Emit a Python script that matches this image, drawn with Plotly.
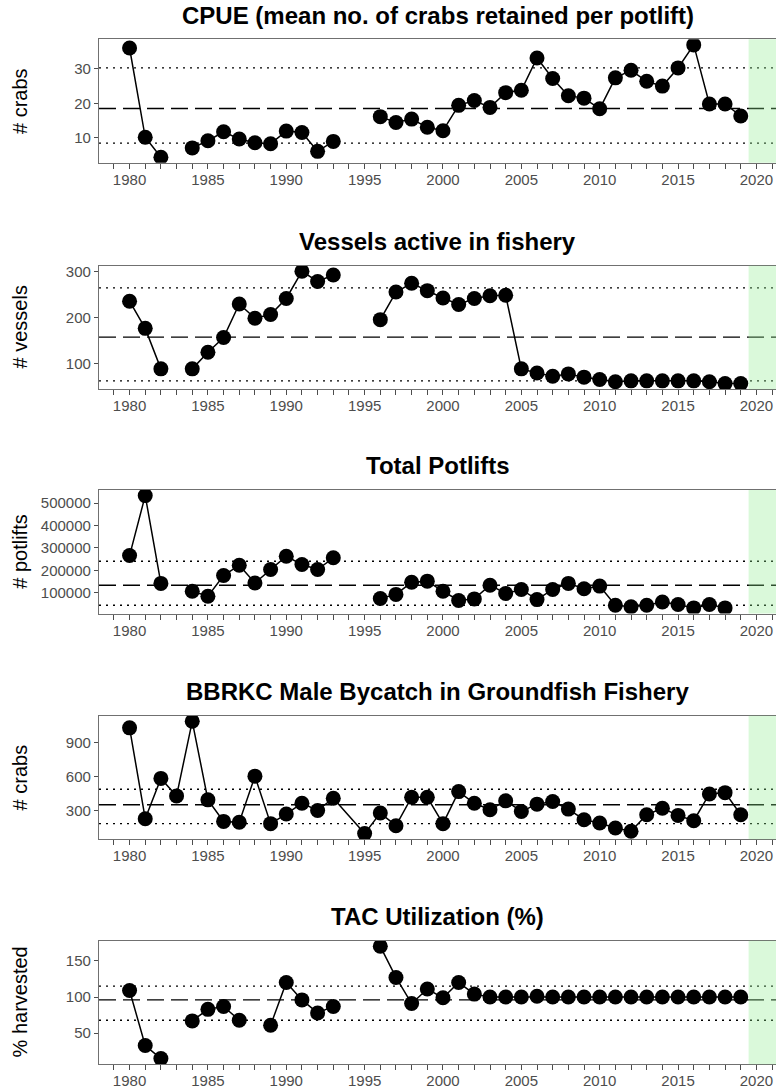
import plotly.graph_objects as go

# ---------------- data ----------------
years = list(range(1980, 2020))

cpue = [36.1, 10.1, 4.3, None, 7.0, 9.1, 11.7, 9.6, 8.5, 8.2,
        11.9, 11.5, 6.0, 8.9, None, None, 16.1, 14.4, 15.4, 13.0,
        12.0, 19.4, 20.8, 18.8, 23.1, 23.8, 33.2, 27.2, 22.2, 21.5,
        18.4, 27.4, 29.6, 26.4, 25.0, 30.3, 37.0, 19.8, 19.8, 16.3]

vessels = [236, 177, 89, None, 89, 125, 157, 230, 199, 207,
           242, 301, 279, 293, None, None, 196, 256, 275, 259,
           243, 229, 242, 248, 249, 89, 80, 73, 78, 71,
           66, 61, 63, 63, 63, 63, 63, 61, 57, 57]

potlifts = [266000, 533000, 142000, None, 107000, 85000, 177000, 223000, 144000, 204000,
            263000, 226000, 204000, 256000, None, None, 75000, 93000, 147000, 152000,
            107000, 66000, 73000, 134000, 97000, 115000, 70000, 115000, 142000, 118000,
            130000, 45000, 38000, 45000, 59000, 48000, 33000, 48000, 33000, None]

bycatch = [1032, 227, 584, 429, 1090, 394, 203, 195, 604, 183,
           268, 364, 300, 408, None, 95, 277, 165, 417, 417,
           183, 467, 364, 306, 385, 291, 356, 379, 312, 218,
           189, 145, 116, 262, 320, 256, 209, 446, 458, 262]

tac = [109, 33, 15, None, 67, 83, 87, 68, None, 61,
       120, 96, 78, 87, None, None, 170, 127, 91, 111,
       99, 120, 104, 100, 100, 100, 101, 100, 100, 100,
       100, 100, 100, 100, 100, 100, 100, 100, 100, 100]

titles = ["CPUE (mean no. of crabs retained per potlift)",
          "Vessels active in fishery",
          "Total Potlifts",
          "BBRKC Male Bycatch in Groundfish Fishery",
          "TAC Utilization (%)"]
ytitles = ["# crabs", "# vessels", "# potlifts", "# crabs", "% harvested"]
series = [cpue, vessels, potlifts, bycatch, tac]
connect = [False, False, False, True, False]

means = [18.5, 158, 134000, 350, 96]
uppers = [30.3, 265, 241000, 488, 115]
lowers = [8.4, 63, 45000, 183, 68]

ytickvals = [[10, 20, 30],
             [100, 200, 300],
             [100000, 200000, 300000, 400000, 500000],
             [300, 600, 900],
             [50, 100, 150]]
xtickvals = [1980, 1985, 1990, 1995, 2000, 2005, 2010, 2015, 2020]
shade_start = 2019.5

# ---------------- layout geometry ----------------
W, H = 776, 1088
left_px = 99
tops = [39.3, 265.7, 490.0, 715.7, 940.7]
ph = 123.5
xrange_ = [1978.05, 2021.25]

FONT = "Liberation Sans, Arial, Helvetica, sans-serif"
GRAY = "#4d4d4d"
BORDER = "#707070"

fig = go.Figure()
layout = dict(width=W, height=H, margin=dict(l=0, r=0, t=0, b=0),
              paper_bgcolor="white", plot_bgcolor="white", showlegend=False,
              font=dict(family=FONT))
shapes, annotations = [], []

for i in range(5):
    n = "" if i == 0 else str(i + 1)
    xa, ya = "x" + n, "y" + n
    top, bot = tops[i], tops[i] + ph
    dom_y = [1 - bot / H, 1 - top / H]
    vals = [v for v in series[i] if v is not None]
    lo, hi = min(vals), max(vals)
    r = hi - lo
    yr = [lo - 0.05 * r, hi + 0.05 * r]

    fig.add_trace(go.Scatter(x=years, y=series[i], mode="lines+markers",
                             connectgaps=connect[i],
                             line=dict(color="black", width=1.5),
                             marker=dict(color="black", size=15),
                             xaxis=xa, yaxis=ya, hoverinfo="skip"))

    layout["xaxis" + n] = dict(domain=[left_px / W, 1], range=xrange_, anchor=ya,
                               showgrid=False, zeroline=False,
                               showline=True, linecolor=BORDER, linewidth=1.2, mirror=True,
                               tickmode="array", tickvals=xtickvals,
                               ticks="outside", ticklen=5, tickwidth=1, tickcolor=GRAY,
                               ticklabelstandoff=-2,
                               minor=dict(dtick=1, tick0=1980, ticks="outside", ticklen=5,
                                          tickwidth=1, tickcolor=GRAY, showgrid=False),
                               tickfont=dict(size=15, color=GRAY, family=FONT),
                               automargin=False, fixedrange=True)
    layout["yaxis" + n] = dict(domain=dom_y, range=yr, anchor=xa,
                               showgrid=False, zeroline=False,
                               showline=True, linecolor=BORDER, linewidth=1.2, mirror=False,
                               tickmode="array", tickvals=ytickvals[i], tickformat="d",
                               ticks="outside", ticklen=4, tickwidth=1, tickcolor=GRAY,
                               tickfont=dict(size=15, color=GRAY, family=FONT),
                               automargin=False, fixedrange=True)

    # reference lines
    for val, dash in [(means[i], "17px,7px"), (uppers[i], "2px,5px"), (lowers[i], "2px,5px")]:
        shapes.append(dict(type="line", xref=xa + " domain", yref=ya,
                           x0=0, x1=1, y0=val, y1=val,
                           line=dict(color="black", width=1.4, dash=dash), layer="above"))
    # projection band
    shapes.append(dict(type="rect", xref=xa, yref=ya + " domain",
                       x0=shade_start, x1=xrange_[1] + 2, y0=0, y1=1,
                       fillcolor="rgba(144,238,144,0.33)", line=dict(width=0), layer="above"))

    # panel title
    annotations.append(dict(text="<b>" + titles[i] + "</b>", xref="paper", yref="paper",
                            x=(left_px + W) / 2 / W, y=1 - (top - 24) / H,
                            xanchor="center", yanchor="middle", showarrow=False,
                            font=dict(size=24, color="black", family=FONT)))
    # y-axis title
    annotations.append(dict(text=ytitles[i], xref="paper", yref="paper",
                            x=20 / W, y=1 - (top + ph / 2) / H, textangle=-90,
                            xanchor="center", yanchor="middle", showarrow=False,
                            font=dict(size=20, color="black", family=FONT)))

layout["shapes"] = shapes
layout["annotations"] = annotations
fig.update_layout(**layout)
fig.write_html("out.html")
